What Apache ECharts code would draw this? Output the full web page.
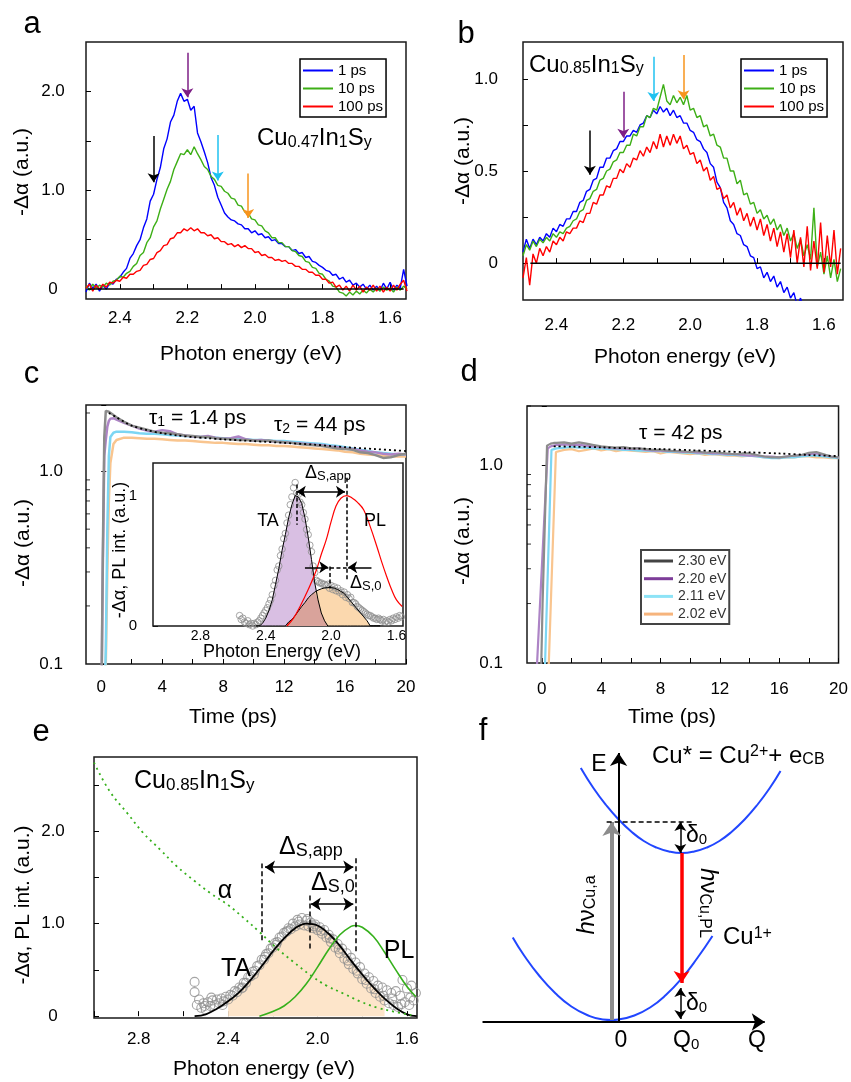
<!DOCTYPE html>
<html>
<head>
<meta charset="utf-8">
<script src="https://cdn.jsdelivr.net/npm/echarts@6/dist/echarts.min.js"></script>
<style>
html,body{margin:0;padding:0;background:#fff}
#chart{width:851px;height:1082px}
</style>
</head>
<body>
<div id="chart"></div>
<script>
// ---------------- data ----------------
// transient absorption spectra (a, b): sampled every 10 meV from 2.50 eV down to 1.55 eV
const specStartEV = 2.50, specStepEV = 0.01;

const a1ps = [-0.03,0.06,0.01,0.05,-0.02,0.04,0.00,0.06,0.05,0.10,
  0.12,0.17,0.21,0.31,0.36,0.44,0.50,0.62,0.71,0.89,
  0.96,1.11,1.23,1.42,1.52,1.69,1.76,1.90,1.98,1.90,
  1.92,1.81,1.85,1.58,1.49,1.39,1.28,1.13,1.05,0.93,
  0.85,0.77,0.73,0.70,0.69,0.66,0.65,0.61,0.61,0.57,
  0.59,0.55,0.56,0.52,0.53,0.49,0.50,0.46,0.46,0.43,
  0.43,0.39,0.40,0.36,0.37,0.32,0.33,0.28,0.27,0.24,
  0.22,0.19,0.18,0.14,0.15,0.10,0.12,0.07,0.09,0.04,
  0.06,0.02,0.05,0.00,0.04,-0.01,0.03,-0.02,0.06,0.00,
  0.07,-0.01,0.04,0.01,0.20,0.03];
const a10ps = [0.03,-0.01,0.05,0.01,0.04,0.02,0.06,0.04,0.08,0.09,
  0.13,0.12,0.16,0.18,0.23,0.26,0.34,0.37,0.47,0.52,
  0.63,0.69,0.81,0.91,1.01,1.09,1.21,1.29,1.37,1.36,
  1.41,1.36,1.44,1.37,1.31,1.24,1.21,1.14,1.11,1.05,
  1.04,0.99,0.97,0.92,0.91,0.85,0.84,0.78,0.77,0.71,
  0.70,0.65,0.64,0.59,0.57,0.52,0.52,0.47,0.47,0.43,
  0.43,0.39,0.38,0.34,0.33,0.28,0.27,0.22,0.21,0.16,
  0.15,0.10,0.08,0.03,0.02,-0.03,-0.04,-0.07,-0.03,-0.06,
  -0.02,-0.05,-0.01,-0.04,0.00,-0.03,0.01,-0.02,0.02,-0.01,
  0.01,-0.03,0.02,-0.01,0.03,0.00];
const a100ps = [0.01,0.05,-0.02,0.04,0.00,0.05,0.02,0.07,0.06,0.09,
  0.08,0.12,0.11,0.15,0.15,0.18,0.19,0.24,0.25,0.30,
  0.31,0.37,0.39,0.44,0.45,0.51,0.52,0.57,0.57,0.61,
  0.59,0.62,0.59,0.61,0.57,0.57,0.54,0.55,0.51,0.52,
  0.48,0.48,0.45,0.46,0.43,0.45,0.42,0.44,0.41,0.41,
  0.37,0.38,0.34,0.35,0.32,0.32,0.29,0.30,0.28,0.29,
  0.26,0.26,0.23,0.23,0.20,0.20,0.17,0.17,0.14,0.14,
  0.10,0.10,0.06,0.07,0.02,0.04,-0.01,0.03,-0.02,0.04,
  -0.01,0.03,-0.03,0.02,-0.01,0.04,-0.02,0.03,-0.03,0.02,
  -0.02,0.04,-0.01,0.05,0.09,-0.02];

const b1ps = [0.06,0.13,0.08,0.13,0.10,0.14,0.12,0.16,0.14,0.19,
  0.17,0.21,0.20,0.24,0.24,0.28,0.28,0.33,0.34,0.39,
  0.40,0.45,0.46,0.52,0.52,0.57,0.57,0.61,0.62,0.66,
  0.66,0.69,0.69,0.72,0.71,0.75,0.76,0.80,0.79,0.83,
  0.81,0.85,0.82,0.84,0.80,0.83,0.79,0.80,0.76,0.76,
  0.72,0.71,0.67,0.66,0.62,0.60,0.54,0.52,0.44,0.41,
  0.33,0.30,0.23,0.21,0.16,0.15,0.10,0.09,0.04,0.03,
  -0.03,-0.02,-0.08,-0.05,-0.10,-0.07,-0.13,-0.10,-0.16,-0.13,
  -0.19,-0.16,-0.23,-0.19,-0.25,-0.21,-0.27,-0.22,-0.28,-0.24,
  -0.29,-0.25,-0.30,-0.26,-0.30,-0.27];
const b10ps = [0.04,0.10,0.07,0.12,0.09,0.13,0.11,0.14,0.12,0.16,
  0.14,0.17,0.16,0.19,0.20,0.23,0.24,0.28,0.29,0.34,
  0.35,0.39,0.40,0.45,0.46,0.50,0.51,0.55,0.56,0.60,
  0.60,0.64,0.64,0.70,0.69,0.74,0.74,0.80,0.79,0.84,
  0.83,0.90,0.97,0.88,0.86,0.91,0.87,0.90,0.86,0.91,
  0.83,0.84,0.79,0.80,0.74,0.75,0.69,0.70,0.64,0.63,
  0.57,0.57,0.50,0.50,0.43,0.45,0.37,0.38,0.32,0.33,
  0.27,0.29,0.24,0.26,0.21,0.24,0.18,0.21,0.15,0.19,
  0.12,0.16,0.08,0.13,0.04,0.10,0.02,0.30,-0.02,0.06,
  -0.06,0.04,-0.08,0.02,-0.10,-0.03];
const b100ps = [-0.08,0.03,-0.12,0.05,0.00,0.08,0.04,0.09,0.06,0.12,
  0.10,0.14,0.12,0.17,0.16,0.19,0.19,0.23,0.22,0.27,
  0.27,0.33,0.32,0.37,0.37,0.42,0.41,0.46,0.46,0.51,
  0.49,0.54,0.52,0.57,0.56,0.61,0.58,0.63,0.60,0.66,
  0.62,0.70,0.63,0.69,0.64,0.70,0.65,0.69,0.62,0.64,
  0.59,0.60,0.54,0.56,0.50,0.52,0.45,0.47,0.40,0.41,
  0.35,0.37,0.30,0.33,0.26,0.30,0.23,0.27,0.20,0.25,
  0.18,0.24,0.15,0.21,0.12,0.19,0.09,0.17,0.06,0.16,
  0.03,0.18,0.00,0.14,-0.02,0.20,-0.04,0.12,-0.03,0.22,
  -0.05,0.15,-0.02,0.18,-0.06,0.08];

// probe energies marked by arrows (a, b) and plotted as kinetics (c, d)
const probeEV = [2.30, 2.20, 2.11, 2.02];
const probeNames = ['2.30 eV', '2.20 eV', '2.11 eV', '2.02 eV'];
const arrowTailA = [1.55, 2.39, 1.56, 1.17], arrowTipA = [1.08, 1.94, 1.10, 0.72];
const arrowTailB = [0.72, 0.93, 1.12, 1.13], arrowTipB = [0.48, 0.68, 0.88, 0.89];

// kinetics, Cu0.47In1Sy (c): [time ps, -Δα]
const kinC230 = [[-1,0.03],[-0.2,0.03],[0,0.05],[0.1,0.35],[0.2,1.5],[0.3,2.05],[0.4,2.06],[0.5,2.03],[0.6,2.0],[0.8,1.95],[1,1.9],[1.5,1.8],[2,1.72],[2.5,1.68],[3,1.64],[3.5,1.6],[4,1.58],[4.5,1.57],[5,1.55],[5.5,1.53],[6,1.52],[6.5,1.5],[7,1.5],[7.5,1.48],[8,1.47],[8.5,1.46],[9,1.45],[9.5,1.45],[10,1.44],[10.5,1.43],[11,1.44],[11.5,1.42],[12,1.41],[12.5,1.40],[13,1.38],[13.5,1.37],[14,1.36],[14.5,1.35],[15,1.33],[15.5,1.31],[16,1.30],[16.5,1.29],[17,1.25],[17.5,1.24],[18,1.21],[18.5,1.17],[19,1.18],[19.5,1.21],[20,1.23]];
const kinC220 = [[-1,0.03],[-0.2,0.03],[0,0.05],[0.1,0.3],[0.2,1.2],[0.3,1.45],[0.4,1.7],[0.5,1.82],[0.6,1.87],[0.8,1.88],[1,1.85],[1.5,1.78],[2,1.72],[2.5,1.66],[3,1.62],[3.5,1.6],[4,1.63],[4.5,1.61],[5,1.55],[5.5,1.53],[6,1.51],[6.5,1.5],[7,1.52],[7.5,1.49],[8,1.47],[8.5,1.48],[9,1.51],[9.5,1.46],[10,1.44],[10.5,1.45],[11,1.43],[11.5,1.42],[12,1.41],[12.5,1.40],[13,1.39],[13.5,1.38],[14,1.37],[14.5,1.36],[15,1.34],[15.5,1.33],[16,1.31],[16.5,1.30],[17,1.28],[17.5,1.26],[18,1.25],[18.5,1.23],[19,1.22],[19.5,1.23],[20,1.22]];
const kinC211 = [[-1,0.03],[-0.2,0.03],[0,0.03],[0.1,0.04],[0.2,0.06],[0.3,0.12],[0.4,0.5],[0.5,1.2],[0.6,1.5],[0.8,1.58],[1,1.6],[1.5,1.6],[2,1.59],[2.5,1.57],[3,1.56],[3.5,1.56],[4,1.55],[4.5,1.54],[5,1.53],[5.5,1.52],[6,1.51],[6.5,1.5],[7,1.5],[7.5,1.49],[8,1.48],[8.5,1.47],[9,1.47],[9.5,1.46],[10,1.45],[10.5,1.45],[11,1.44],[11.5,1.43],[12,1.43],[12.5,1.42],[13,1.41],[13.5,1.40],[14,1.39],[14.5,1.38],[15,1.36],[15.5,1.35],[16,1.33],[16.5,1.31],[17,1.29],[17.5,1.27],[18,1.25],[18.5,1.24],[19,1.23],[19.5,1.22],[20,1.22]];
const kinC202 = [[-1,0.03],[-0.2,0.03],[0,0.03],[0.1,0.04],[0.2,0.05],[0.3,0.1],[0.4,0.3],[0.5,0.7],[0.6,1.1],[0.8,1.38],[1,1.45],[1.5,1.49],[2,1.49],[2.5,1.48],[3,1.47],[3.5,1.47],[4,1.46],[4.5,1.45],[5,1.44],[5.5,1.44],[6,1.43],[6.5,1.42],[7,1.41],[7.5,1.40],[8,1.40],[8.5,1.39],[9,1.38],[9.5,1.38],[10,1.37],[10.5,1.36],[11,1.36],[11.5,1.35],[12,1.35],[12.5,1.34],[13,1.33],[13.5,1.32],[14,1.31],[14.5,1.30],[15,1.29],[15.5,1.28],[16,1.26],[16.5,1.25],[17,1.23],[17.5,1.22],[18,1.21],[18.5,1.20],[19,1.19],[19.5,1.19],[20,1.19]];
const fitC = [[0.5,2.0],[1,1.9],[1.5,1.8],[2,1.72],[3,1.63],[4,1.57],[5,1.53],[6,1.5],[7,1.48],[8,1.46],[10,1.43],[12,1.40],[14,1.37],[16,1.33],[18,1.30],[20,1.27]];

// kinetics, Cu0.85In1Sy (d)
const kinD230 = [[-1,0.03],[-0.1,0.06],[0.05,0.2],[0.35,1.26],[0.6,1.29],[0.8,1.3],[1,1.3],[1.5,1.31],[2,1.29],[2.5,1.31],[3,1.29],[3.5,1.27],[4,1.25],[4.5,1.24],[5,1.23],[5.5,1.24],[6,1.22],[6.5,1.22],[7,1.21],[7.5,1.20],[8,1.20],[8.5,1.19],[9,1.18],[9.5,1.18],[10,1.17],[10.5,1.18],[11,1.16],[11.5,1.17],[12,1.16],[12.5,1.15],[13,1.14],[13.5,1.15],[14,1.15],[14.5,1.13],[15,1.11],[15.5,1.10],[16,1.10],[16.5,1.11],[17,1.12],[17.5,1.13],[18,1.16],[18.5,1.17],[19,1.14],[19.5,1.11],[20,1.10]];
const kinD220 = [[-1,0.04],[-0.35,0.09],[0.4,1.22],[0.6,1.25],[0.8,1.26],[1,1.27],[1.5,1.28],[2,1.27],[2.5,1.27],[3,1.26],[3.5,1.25],[4,1.24],[4.5,1.23],[5,1.22],[5.5,1.22],[6,1.21],[6.5,1.22],[7,1.20],[7.5,1.19],[8,1.19],[8.5,1.18],[9,1.18],[9.5,1.17],[10,1.17],[10.5,1.16],[11,1.16],[11.5,1.15],[12,1.15],[12.5,1.14],[13,1.14],[13.5,1.13],[14,1.12],[14.5,1.12],[15,1.11],[15.5,1.11],[16,1.10],[16.5,1.11],[17,1.12],[17.5,1.13],[18,1.14],[18.5,1.15],[19,1.13],[19.5,1.11],[20,1.10]];
const kinD211 = [[-1,0.04],[0.2,0.09],[0.65,1.2],[1,1.22],[1.5,1.23],[2,1.24],[2.5,1.23],[3,1.23],[3.5,1.22],[4,1.22],[4.5,1.21],[5,1.21],[5.5,1.20],[6,1.20],[6.5,1.19],[7,1.19],[7.5,1.18],[8,1.18],[8.5,1.17],[9,1.17],[9.5,1.16],[10,1.16],[10.5,1.15],[11,1.15],[11.5,1.14],[12,1.14],[12.5,1.13],[13,1.13],[13.5,1.12],[14,1.12],[14.5,1.11],[15,1.10],[15.5,1.09],[16,1.09],[16.5,1.10],[17,1.10],[17.5,1.11],[18,1.12],[18.5,1.12],[19,1.11],[19.5,1.10],[20,1.09]];
const kinD202 = [[-1,0.04],[0.45,0.09],[0.95,1.17],[1.5,1.2],[2,1.21],[2.5,1.18],[3,1.20],[3.5,1.22],[4,1.19],[4.5,1.21],[5,1.18],[5.5,1.20],[6,1.19],[6.5,1.18],[7,1.17],[7.5,1.18],[8,1.15],[8.5,1.17],[9,1.16],[9.5,1.15],[10,1.14],[10.5,1.15],[11,1.13],[11.5,1.14],[12,1.13],[12.5,1.12],[13,1.12],[13.5,1.11],[14,1.12],[14.5,1.11],[15,1.10],[15.5,1.10],[16,1.09],[16.5,1.10],[17,1.10],[17.5,1.11],[18,1.11],[18.5,1.10],[19,1.10],[19.5,1.09],[20,1.09]];
const fitD = [[0.8,1.25],[2,1.245],[4,1.235],[6,1.22],[8,1.21],[10,1.195],[12,1.18],[14,1.165],[16,1.15],[18,1.13],[20,1.115]];

// log-axis minor tick values (c, d)
const logMinorTicks = [0.2,0.3,0.4,0.5,0.6,0.7,0.8,0.9,2];

// inset of (c): TA data every 10 meV from 2.56 eV, two Gaussian components every 20 meV from 2.46 eV, PL
const insetDataStartEV = 2.56;
const insetTA = [0.08,0.05,0.06,0.03,0.02,0.04,0.01,0.02,0.00,0.02,
  0.01,0.03,0.04,0.06,0.08,0.10,0.12,0.14,0.17,0.20,
  0.24,0.31,0.35,0.43,0.46,0.54,0.59,0.67,0.71,0.79,
  0.85,0.93,0.99,1.06,1.10,1.02,1.01,0.95,0.93,0.87,
  0.82,0.74,0.70,0.62,0.57,0.46,0.41,0.35,0.34,0.33,
  0.33,0.32,0.32,0.31,0.32,0.29,0.31,0.28,0.30,0.27,
  0.29,0.26,0.27,0.24,0.26,0.22,0.24,0.21,0.22,0.18,
  0.18,0.17,0.15,0.14,0.13,0.12,0.11,0.10,0.09,0.08,
  0.08,0.07,0.06,0.06,0.05,0.06,0.05,0.04,0.05,0.03,
  0.04,0.03,0.05,0.04,0.06,0.05,0.07,0.06,0.08,0.07];
const insetCompStartEV = 2.46;
const insetTA1 = [0,0,0.02,0.06,0.12,0.20,0.32,0.44,0.58,0.70,0.83,0.93,1.0,0.99,0.94,0.83,0.68,0.51,0.33,0.20,0.10,0.04,0,0,
  0,0,0,0,0,0,0,0,0,0,0,0,0,0,0];
const insetTA2 = [0,0,0,0,0,0,0,0,0,0,
  0.03,0.05,0.08,0.115,0.15,0.18,0.215,0.24,0.26,0.275,0.285,0.292,0.295,0.295,0.29,0.28,0.265,0.25,0.22,0.19,0.16,0.13,0.10,0.07,0.04,
  0,0,0,0];
const insetPL = [[2.27,0.0],[2.23,0.06],[2.19,0.15],[2.14,0.28],[2.09,0.43],[2.06,0.55],[2.03,0.66],[2.00,0.80],[1.97,0.92],[1.94,0.98],[1.905,1.0],[1.87,0.98],[1.84,0.95],[1.80,0.89],[1.76,0.76],[1.72,0.61],[1.69,0.49],[1.66,0.38],[1.63,0.28],[1.60,0.20],[1.565,0.15]];

// (e): TA data, Gaussian fit, PL and absorption
const eTAdata = [[2.55,0.37],[2.55,0.26],[2.54,0.12],[2.53,0.18],[2.52,0.09],[2.51,0.14],[2.50,0.07],[2.49,0.15],[2.48,0.11],[2.47,0.17],[2.46,0.12],[2.45,0.18],[2.44,0.14],[2.43,0.19],[2.42,0.16],[2.41,0.21],[2.40,0.18],[2.39,0.23],[2.38,0.22],[2.37,0.27],[2.36,0.26],[2.35,0.31],[2.34,0.30],[2.33,0.36],[2.32,0.36],[2.31,0.42],[2.30,0.43],[2.29,0.48],[2.28,0.49],[2.27,0.54],[2.26,0.55],[2.25,0.61],[2.24,0.61],[2.23,0.67],[2.22,0.68],[2.21,0.73],[2.20,0.74],[2.19,0.79],[2.18,0.80],[2.17,0.85],[2.16,0.86],[2.15,0.90],[2.14,0.91],[2.13,0.95],[2.12,0.94],[2.11,1.00],[2.10,0.97],[2.09,1.04],[2.08,0.99],[2.07,1.06],[2.06,0.98],[2.05,1.03],[2.04,0.97],[2.03,1.01],[2.02,0.95],[2.01,0.99],[2.00,0.93],[1.99,0.96],[1.98,0.89],[1.97,0.93],[1.96,0.85],[1.95,0.88],[1.94,0.80],[1.93,0.83],[1.92,0.74],[1.91,0.78],[1.90,0.68],[1.89,0.73],[1.88,0.62],[1.87,0.68],[1.86,0.56],[1.85,0.63],[1.84,0.51],[1.83,0.58],[1.82,0.46],[1.81,0.53],[1.80,0.40],[1.79,0.46],[1.78,0.35],[1.77,0.42],[1.76,0.30],[1.75,0.38],[1.74,0.25],[1.73,0.33],[1.72,0.21],[1.71,0.31],[1.70,0.17],[1.69,0.28],[1.68,0.14],[1.67,0.25],[1.66,0.12],[1.65,0.27],[1.64,0.10],[1.63,0.22],[1.62,0.39],[1.61,0.15],[1.60,0.30],[1.59,0.12],[1.58,0.33],[1.57,0.17],[1.56,0.25],
  [2.335,0.31],[2.285,0.45],[2.235,0.64],[2.185,0.77],[2.135,0.92],[2.085,1.02],[2.045,1.05],[2.015,0.97],[1.985,0.92],[1.945,0.84],[1.905,0.72],[1.865,0.60],[1.825,0.49],[1.785,0.39],[1.745,0.29],[1.705,0.22],[1.665,0.19],[1.625,0.13],[1.585,0.20],[2.425,0.12],[2.475,0.20],[2.505,0.11]];
const eTAfit = [[2.55,0.0],[2.50,0.02],[2.45,0.08],[2.40,0.16],[2.35,0.26],[2.30,0.39],[2.25,0.54],[2.20,0.70],[2.15,0.84],[2.10,0.95],[2.05,1.0],[2.00,0.98],[1.95,0.89],[1.90,0.76],[1.85,0.60],[1.80,0.45],[1.75,0.31],[1.70,0.19],[1.65,0.09],[1.60,0.02],[1.556,0.0]];
const ePL = [[2.26,0.0],[2.20,0.05],[2.15,0.11],[2.10,0.21],[2.05,0.35],[2.00,0.53],[1.95,0.72],[1.90,0.88],[1.85,0.97],[1.83,0.98],[1.80,0.96],[1.75,0.86],[1.70,0.69],[1.65,0.50],[1.60,0.32],[1.56,0.21]];
const eAlpha = [[3.0,2.74],[2.93,2.43],[2.85,2.19],[2.78,1.98],[2.70,1.79],[2.63,1.62],[2.55,1.46],[2.48,1.33],[2.40,1.20],[2.33,1.06],[2.26,0.91],[2.19,0.75],[2.11,0.59],[2.03,0.44],[1.96,0.33],[1.88,0.24],[1.81,0.16],[1.73,0.09],[1.66,0.05],[1.58,0.01]];

// (f) configuration coordinate diagram: [Q, E]
const fGround = [[-1.68,1.69],[-1.5,1.33],[-1.25,0.91],[-1.0,0.57],[-0.75,0.31],[-0.5,0.14],[-0.25,0.05],[-0.11,0.04],[0,0.05],[0.25,0.13],[0.5,0.29],[0.75,0.54],[1.0,0.87],[1.25,1.28],[1.49,1.72]];
const fExcited = [[-0.6,5.08],[-0.4,4.68],[-0.2,4.34],[0,4.05],[0.2,3.81],[0.4,3.62],[0.6,3.49],[0.8,3.41],[1.0,3.38],[1.2,3.41],[1.4,3.49],[1.6,3.62],[1.8,3.81],[2.0,4.05],[2.2,4.34],[2.4,4.68],[2.57,5.02]];
const fQ0 = 1.0, fAbsE = 4.0, fExcMinE = 3.38, fPLendE = 0.78;

// ---------------- styles ----------------
const F = 'Liberation Sans, Arial, Helvetica, sans-serif';
const C = {
  blue: '#0000ff', green: '#3daf16', red: '#ff0000',
  k: ['#8c8c8c', '#ad84c6', '#7cd6f3', '#f9c58f'],
  legD: ['#444444', '#7d3d99', '#8de3f6', '#f6b47c'],
  arrow: ['#000000', '#7e1f86', '#1fc2f0', '#f7941d'],
  purpleFill: '#d9bfe3', peachFill: '#fbd8ae', overlapFill: '#d9a39b', eFill: '#fde5ca',
  circle: '#8f8f8f', parab: '#2146ff'
};

// ---------------- helpers ----------------
const gridEV = (start, step, vals) => vals.map((v, i) => [+(start - step * i).toFixed(3), v]);
const range = (a, b, s) => { const r = []; for (let v = a; v <= b + 1e-9; v += s) r.push(+v.toFixed(3)); return r; };
const fmt1 = v => (Math.abs(v) < 1e-9 ? '0' : (+v).toFixed(1));

function line(i, data, color, width, extra) {
  return Object.assign({
    type: 'line', xAxisIndex: i, yAxisIndex: i, data, symbol: 'none', showSymbol: false,
    lineStyle: { color, width }, itemStyle: { color }, silent: true, animation: false
  }, extra || {});
}
function segs(i, list, o) {
  return {
    type: 'lines', coordinateSystem: 'cartesian2d', xAxisIndex: i, yAxisIndex: i, silent: true,
    symbol: o.symbol || 'none', symbolSize: o.size || 8, z: o.z || 6,
    lineStyle: { color: o.color || '#000', width: o.width || 1.5, type: o.type || 'solid', opacity: 1 },
    data: list.map(s => s.color ? { coords: s.c, lineStyle: { color: s.color } } : { coords: s.c })
  };
}
function tickMarks(i, xMin, vals) {
  return {
    type: 'scatter', xAxisIndex: i, yAxisIndex: i, silent: true, clip: false,
    symbol: 'rect', symbolSize: [4, 1], symbolOffset: [2, 0], itemStyle: { color: '#000' },
    data: vals.map(v => [xMin, v]), z: 7
  };
}
function axisV(gi, min, max, ticks, labels, fmt, margin, extra) {
  return Object.assign({
    type: 'value', gridIndex: gi, min, max, axisLine: { show: false }, splitLine: { show: false },
    axisTick: { show: true, inside: true, length: 5, customValues: ticks, lineStyle: { color: '#000', width: 1 } },
    axisLabel: { customValues: labels, formatter: fmt, margin, fontSize: 17, color: '#000', fontFamily: F }
  }, extra || {});
}
function logAxis(gi, max, margin) {
  return {
    type: 'log', logBase: 10, gridIndex: gi, min: 0.1, max, axisLine: { show: false }, splitLine: { show: false },
    axisTick: { inside: true, length: 5, lineStyle: { color: '#000' } },
    axisLabel: {
      margin, fontSize: 17, color: '#000', fontFamily: F,
      formatter: v => (Math.abs(v - 1) < 1e-6 ? '1.0' : (Math.abs(v - 0.1) < 1e-6 ? '0.1' : ''))
    }
  };
}
function hidden(gi, min, max) {
  return { type: 'value', gridIndex: gi, min, max, show: false, splitLine: { show: false } };
}

function T(x, y, text, size, o) {
  o = o || {};
  const st = { text, fill: '#000', fontSize: size, fontFamily: F,
    align: o.align || 'center', verticalAlign: o.v || 'middle' };
  st.textAlign = st.align; st.textVerticalAlign = st.verticalAlign;
  if (o.rich) st.rich = o.rich;
  if (o.italic) st.fontStyle = 'italic';
  return { type: 'text', x, y, rotation: o.rot || 0, z: 100, silent: true, style: st };
}
function richSet(S, s, D) {
  const base = { fontFamily: F, fill: '#000', color: '#000' };
  return {
    m: Object.assign({ fontSize: S, lineHeight: S, padding: [0, 0, D, 0], verticalAlign: 'top' }, base),
    i: Object.assign({ fontSize: S, lineHeight: S, padding: [0, 0, D, 0], verticalAlign: 'top', fontStyle: 'italic' }, base),
    s: Object.assign({ fontSize: s, lineHeight: s, verticalAlign: 'bottom' }, base),
    p: Object.assign({ fontSize: s, lineHeight: s, verticalAlign: 'top' }, base)
  };
}
function RT(x, y, text, S, s, D, o) {
  return T(x, y, text, S, Object.assign({ align: 'left', v: 'top', rich: richSet(S, s, D) }, o || {}));
}
const UP = Math.PI / 2;

// ---------------- derived series data ----------------
const insetTAdata = gridEV(insetDataStartEV, 0.01, insetTA);
const insetC1 = gridEV(insetCompStartEV, 0.02, insetTA1);
const insetC2 = gridEV(insetCompStartEV, 0.02, insetTA2);
const insetOverlap = insetTA1.map((v, i) => [insetC1[i][0], Math.min(v, insetTA2[i])]);
const eFillPart = eTAfit.filter(p => p[0] <= 2.40 + 1e-9 && p[0] >= 1.70 - 1e-9);

// ---------------- option ----------------
const grids = [
  { left: 86, top: 42, width: 320, height: 257 },     // a
  { left: 523, top: 42, width: 320, height: 258 },    // b
  { left: 86, top: 405, width: 320, height: 259 },    // c
  { left: 153, top: 463, width: 250, height: 163, backgroundColor: '#fff', z: 3 }, // c inset
  { left: 527, top: 406, width: 320, height: 257 },   // d
  { left: 94, top: 757, width: 323, height: 261 },    // e
  { left: 480, top: 742, width: 302.4, height: 290, show: false } // f
].map(g => Object.assign({ show: true, borderColor: '#1a1a1a', borderWidth: 1.5, containLabel: false }, g));

const specTicks = range(1.6, 2.4, 0.1), specLabels = [1.6, 1.8, 2.0, 2.2, 2.4];
const timeTicks = range(0, 20, 2), timeLabels = [0, 4, 8, 12, 16, 20];

const xAxes = [
  axisV(0, 1.553, 2.5, specTicks, specLabels, fmt1, 11, { inverse: true }),
  axisV(1, 1.543, 2.5, specTicks, specLabels, fmt1, 17, { inverse: true }),
  axisV(2, -1, 20, timeTicks, timeLabels, v => String(v), 15),
  axisV(3, 1.56, 3.09, range(1.6, 3.0, 0.2), [1.6, 2.0, 2.4, 2.8], fmt1, 3, { inverse: true }),
  axisV(4, -1, 20, timeTicks, timeLabels, v => String(v), 18),
  axisV(5, 1.555, 3.0, range(1.6, 3.0, 0.2), [1.6, 2.0, 2.4, 2.8], fmt1, 13, { inverse: true }),
  hidden(6, -2.2, 2.6)
];
xAxes[3].axisLabel.fontSize = 14;

const yAxes = [
  axisV(0, -0.1, 2.5, [0, 0.5, 1, 1.5, 2], [0, 1, 2], fmt1, 33),
  axisV(1, -0.2, 1.2, [0, 0.25, 0.5, 0.75, 1], [0, 0.5, 1], fmt1, 25),
  logAxis(2, 2.2, 23),
  axisV(3, 0, 1.25, range(0, 1.2, 0.2), [0, 1], v => String(Math.round(v)), 16),
  logAxis(4, 2.0, 24),
  axisV(5, -0.02, 2.8, range(0, 2.5, 0.5), [0, 1, 2], fmt1, 41),
  hidden(6, -0.2, 5.6)
];
yAxes[0].axisLabel.align = 'center';
yAxes[5].axisLabel.align = 'center';
yAxes[3].axisLabel.fontSize = 15;

const series = [];
// (a)
series.push(line(0, gridEV(specStartEV, specStepEV, a1ps), C.blue, 1.4, { name: '1 ps' }));
series.push(line(0, gridEV(specStartEV, specStepEV, a10ps), C.green, 1.4, { name: '10 ps' }));
series.push(line(0, gridEV(specStartEV, specStepEV, a100ps), C.red, 1.4, { name: '100 ps' }));
series.push(line(0, [[2.494, 0], [1.56, 0]], '#000', 1.5, { z: 5 }));
series.push(segs(0, probeEV.map((e, k) => ({ c: [[e, arrowTailA[k]], [e, arrowTipA[k]]], color: C.arrow[k] })), { symbol: ['none', 'arrow'], size: 9, width: 1.5 }));
// (b)
series.push(line(1, gridEV(specStartEV, specStepEV, b1ps), C.blue, 1.4, { name: '1 ps' }));
series.push(line(1, gridEV(specStartEV, specStepEV, b10ps), C.green, 1.4, { name: '10 ps' }));
series.push(line(1, gridEV(specStartEV, specStepEV, b100ps), C.red, 1.4, { name: '100 ps' }));
series.push(line(1, [[2.478, 0], [1.55, 0]], '#000', 1.5, { z: 5 }));
series.push(segs(1, probeEV.map((e, k) => ({ c: [[e, arrowTailB[k]], [e, arrowTipB[k]]], color: C.arrow[k] })), { symbol: ['none', 'arrow'], size: 9, width: 1.5 }));
// (c)
[kinC202, kinC211, kinC220, kinC230].forEach((d, k) => series.push(line(2, d, C.k[3 - k], 2.5)));
series.push(line(2, fitC, '#000', 1.8, { smooth: 0.3, lineStyle: { color: '#000', width: 1.8, type: [2, 3] }, z: 4 }));
series.push(tickMarks(2, -1, logMinorTicks));
// (c) inset
series.push(line(3, insetC1, C.purpleFill, 0, { areaStyle: { color: C.purpleFill, opacity: 1 }, z: 4 }));
series.push(line(3, insetC2, C.peachFill, 0, { areaStyle: { color: C.peachFill, opacity: 1 }, z: 4 }));
series.push(line(3, insetOverlap, C.overlapFill, 0, { areaStyle: { color: C.overlapFill, opacity: 1 }, z: 4 }));
series.push({ type: 'scatter', xAxisIndex: 3, yAxisIndex: 3, data: insetTAdata, symbol: 'circle', symbolSize: 6.5, silent: true,
  itemStyle: { color: 'rgba(255,255,255,0)', borderColor: C.circle, borderWidth: 1 }, z: 5 });
series.push(line(3, insetC1, '#000', 1, { z: 6 }));
series.push(line(3, insetC2, '#000', 1, { z: 6 }));
series.push(line(3, insetPL, C.red, 1.2, { smooth: 0.4, z: 6 }));
series.push(segs(3, [{ c: [[2.21, 1.085], [2.21, 0.777]] }, { c: [[1.905, 1.136], [1.905, 0.354]] }, { c: [[2.007, 0.456], [2.007, 0.29]] }, { c: [[2.007, 0.45], [1.905, 0.45]] }], { type: [4, 2.5], width: 1.5, z: 7 }));
series.push(segs(3, [{ c: [[2.21, 1.03], [1.915, 1.03]] }], { symbol: ['arrow', 'arrow'], size: 9, width: 1.5, z: 7 }));
series.push(segs(3, [{ c: [[2.16, 0.45], [2.017, 0.45]] }, { c: [[1.753, 0.45], [1.896, 0.45]] }], { symbol: ['none', 'arrow'], size: 9, width: 1.5, z: 7 }));
// (d)
[kinD202, kinD211, kinD220, kinD230].forEach((d, k) => series.push(line(4, d, C.k[3 - k], 2.2, { name: probeNames[3 - k] })));
series.push(line(4, fitD, '#000', 1.8, { smooth: 0.3, lineStyle: { color: '#000', width: 1.8, type: [2, 3] }, z: 4 }));
series.push(tickMarks(4, -1, logMinorTicks));
// (e)
series.push(line(5, eFillPart, C.eFill, 0, { smooth: 0.4, areaStyle: { color: C.eFill, opacity: 1 }, z: 2 }));
series.push({ type: 'scatter', xAxisIndex: 5, yAxisIndex: 5, data: eTAdata, symbol: 'circle', symbolSize: 9, silent: true,
  itemStyle: { color: 'rgba(255,255,255,0)', borderColor: C.circle, borderWidth: 1.1 }, z: 3 });
series.push(line(5, eTAfit, '#000', 1.8, { smooth: 0.4, z: 4 }));
series.push(line(5, ePL, '#36b01c', 1.6, { smooth: 0.4, z: 4 }));
series.push(line(5, eAlpha, '#36b01c', 1.8, { smooth: 0.4, lineStyle: { color: '#36b01c', width: 1.8, type: [2, 4] }, z: 4 }));
series.push(segs(5, [{ c: [[2.248, 0.82], [2.248, 1.65]] }, { c: [[2.035, 0.73], [2.035, 1.31]] }, { c: [[1.83, 0.70], [1.83, 1.71]] }], { type: [5, 3], width: 1.5 }));
series.push(segs(5, [{ c: [[2.235, 1.61], [1.84, 1.61]] }, { c: [[2.03, 1.21], [1.84, 1.21]] }], { symbol: ['arrow', 'arrow'], size: 10, width: 1.6 }));
// (f)
series.push(line(6, fGround, C.parab, 2, { smooth: 0.5 }));
series.push(line(6, fExcited, C.parab, 2, { smooth: 0.5 }));
series.push(segs(6, [{ c: [[-2.16, 0], [2.32, 0]] }, { c: [[0, 0], [0, 5.38]] }], { symbol: ['none', 'arrow'], size: 13, width: 2 }));
series.push(segs(6, [{ c: [[-0.11, 0.04], [-0.11, fAbsE]] }], { symbol: ['none', 'arrow'], size: 14, width: 4, color: '#8c8c8c' }));
series.push(segs(6, [{ c: [[-0.19, fAbsE], [1.17, fAbsE]] }], { type: [5, 3], width: 1.5 }));
series.push(segs(6, [{ c: [[fQ0, fExcMinE], [fQ0, fPLendE]] }], { symbol: ['none', 'arrow'], size: 12, width: 3.5, color: '#ff0000' }));
series.push(segs(6, [{ c: [[fQ0 - 0.02, fAbsE], [fQ0 - 0.02, fExcMinE]] }, { c: [[fQ0 - 0.02, 0.68], [fQ0 - 0.02, 0.06]] }], { symbol: ['arrow', 'arrow'], size: 9, width: 1.5, z: 8 }));

const legendBase = {
  orient: 'vertical', icon: 'rect', itemWidth: 30, itemHeight: 2, itemGap: 3, padding: [4, 3, 3, 3],
  borderColor: '#000', borderWidth: 1.5, selectedMode: false, backgroundColor: '#fff',
  textStyle: { fontSize: 15, lineHeight: 15, color: '#000', fontFamily: F }
};
const legends = [
  Object.assign({}, legendBase, { left: 300, top: 59, data: ['1 ps', '10 ps', '100 ps'] }),
  Object.assign({}, legendBase, { left: 741, top: 59, data: ['1 ps', '10 ps', '100 ps'] }),
  Object.assign({}, legendBase, {
    left: 641, top: 550, itemWidth: 29, itemHeight: 3, itemGap: 3.7, borderColor: '#444', borderWidth: 2,
    textStyle: { fontSize: 14, lineHeight: 14, color: '#333', fontFamily: F },
    data: probeNames.map((n, k) => ({ name: n, itemStyle: { color: C.legD[k] } }))
  })
];

const texts = [
  // panel letters
  T(32, 24.5, 'a', 31), T(466, 34.5, 'b', 31), T(31.5, 374.5, 'c', 31),
  T(469, 372.5, 'd', 31), T(41, 732.5, 'e', 31), T(483, 731.5, 'f', 31),
  // axis titles
  T(22, 172, '-Δα (a.u.)', 21, { rot: UP }), T(251, 354, 'Photon energy (eV)', 21),
  T(463, 161, '-Δα (a.u.)', 21, { rot: UP }), T(685, 357, 'Photon energy (eV)', 21),
  T(23, 543, '-Δα (a.u.)', 21, { rot: UP }), T(233, 717, 'Time (ps)', 21),
  T(463, 541, '-Δα (a.u.)', 21, { rot: UP }), T(672, 717, 'Time (ps)', 21),
  T(23, 905, '-Δα, PL int. (a.u.)', 21, { rot: UP }), T(264, 1069, 'Photon energy (eV)', 21),
  T(120, 550, '-Δα, PL int. (a.u.)', 18, { rot: UP }), T(282, 652, 'Photon Energy (eV)', 18),
  // sample labels
  RT(257, 126.5, '{m|Cu}{s|0.47}{m|In}{s|1}{m|S}{s|y}', 24, 16, 5),
  RT(529, 53, '{m|Cu}{s|0.85}{m|In}{s|1}{m|S}{s|y}', 24, 16, 5),
  RT(134, 769, '{m|Cu}{s|0.85}{m|In}{s|1}{m|S}{s|y}', 25, 17, 5),
  // lifetimes
  RT(149, 408, '{m|τ}{s|1}{m| = 1.4 ps}', 21, 14, 5),
  RT(274, 415, '{m|τ}{s|2}{m| = 44 ps}', 21, 14, 5),
  T(639, 433.5, 'τ = 42 ps', 21, { align: 'left' }),
  // inset annotations
  T(268, 521, 'TA', 18), T(375, 521, 'PL', 18),
  RT(305, 464.5, '{m|Δ}{s|S,app}', 18, 13, 4),
  RT(350, 574.5, '{m|Δ}{s|S,0}', 18, 13, 4),
  // (e) annotations
  T(236, 969, 'TA', 25), T(399, 951, 'PL', 25), T(225, 891, 'α', 25),
  RT(279, 835, '{m|Δ}{s|S,app}', 25, 18, 6),
  RT(311, 871, '{m|Δ}{s|S,0}', 25, 18, 6),
  // (f) annotations
  T(599, 765, 'E', 23),
  RT(652, 744, '{m|Cu* = Cu}{p|2+}{m|+ e}{s|CB}', 24, 16, 5),
  T(621, 1041, '0', 23), RT(673, 1029.5, '{m|Q}{s|0}', 23, 15, 5), T(757, 1041, 'Q', 23),
  RT(686, 824.5, '{m|δ}{s|0}', 23, 15, 5), RT(686, 992.5, '{m|δ}{s|0}', 23, 15, 5),
  RT(723, 925.5, '{m|Cu}{p|1+}', 24, 16, 5),
  T(587, 905, '{i|h}{m|ν}{s|Cu,a}', 24, { rot: UP, rich: richSet(24, 16, 5) }),
  T(708, 903, '{i|h}{m|ν}{s|Cu,PL}', 24, { rot: -UP, rich: richSet(24, 16, 5) })
];

const option = {
  animation: false,
  backgroundColor: '#fff',
  textStyle: { fontFamily: F },
  grid: grids,
  xAxis: xAxes,
  yAxis: yAxes,
  legend: legends,
  series,
  graphic: { elements: texts }
};

const chart = echarts.init(document.getElementById('chart'), null, { renderer: 'canvas', width: 851, height: 1082 });
chart.setOption(option);
</script>
</body>
</html>
